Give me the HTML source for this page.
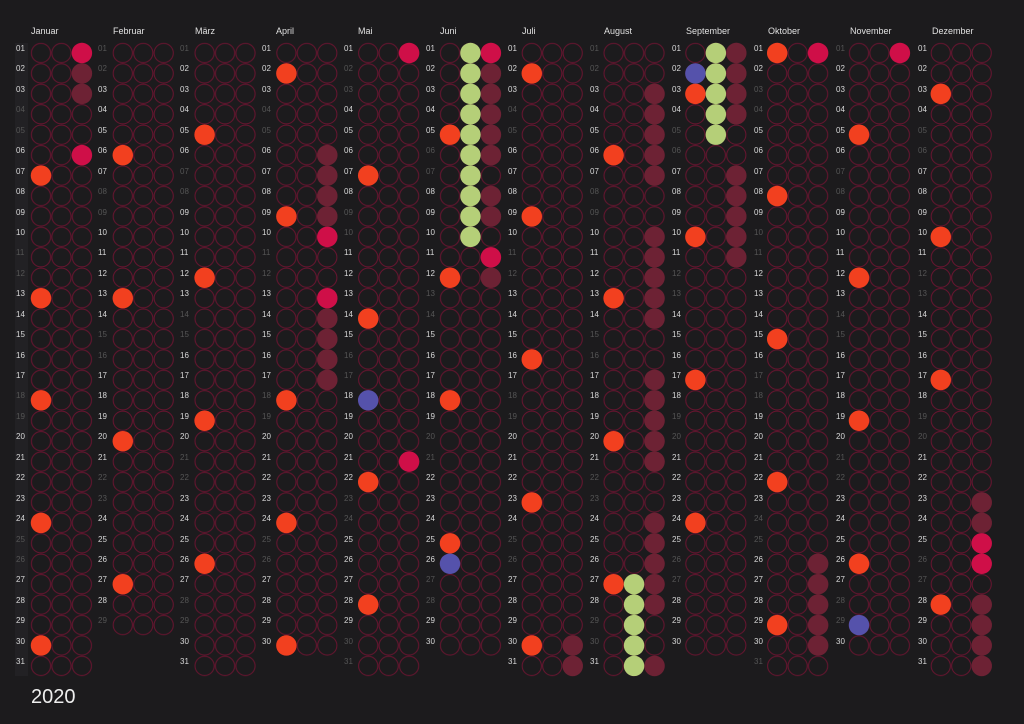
<!DOCTYPE html>
<html><head><meta charset="utf-8"><style>
body{margin:0;width:1024px;height:724px;background:#1c1b1d;overflow:hidden;font-family:"Liberation Sans",sans-serif;position:relative}
.ml{position:absolute;top:26px;font-size:9px;color:#e0e0e0}
.dn{position:absolute;top:39px;font-size:8px;line-height:20.43px;color:#d8d8d8;width:14px}
.dn i{font-style:normal;color:#555}
svg{position:absolute;left:0;top:0}
</style></head><body>
<svg width="1024" height="724">
<defs><pattern id="p" patternUnits="userSpaceOnUse" x="30.775" y="42.785" width="20.45" height="20.43"><circle cx="10.225" cy="10.215" r="9.6" fill="none" stroke="#6a1430" stroke-width="1"/></pattern></defs>
<rect x="15" y="43" width="13" height="633" fill="#222124"/>
<g fill="url(#p)">
<rect x="30.8" y="42.8" width="61.3" height="633.4"/>
<rect x="112.6" y="42.8" width="61.3" height="592.5"/>
<rect x="194.4" y="42.8" width="61.3" height="633.4"/>
<rect x="276.2" y="42.8" width="61.3" height="612.9"/>
<rect x="358" y="42.8" width="61.3" height="633.4"/>
<rect x="439.8" y="42.8" width="61.3" height="612.9"/>
<rect x="521.6" y="42.8" width="61.3" height="633.4"/>
<rect x="603.4" y="42.8" width="61.3" height="633.4"/>
<rect x="685.2" y="42.8" width="61.3" height="612.9"/>
<rect x="767" y="42.8" width="61.3" height="633.4"/>
<rect x="848.8" y="42.8" width="61.3" height="612.9"/>
<rect x="930.6" y="42.8" width="61.3" height="633.4"/>
</g>
<g transform="translate(41,53) scale(20.45,20.43)">
<g fill="#f2401f">
<circle cx="0" cy="6" r=".5"/><circle cx="0" cy="12" r=".5"/><circle cx="0" cy="17" r=".5"/><circle cx="0" cy="23" r=".5"/><circle cx="0" cy="29" r=".5"/>
<circle cx="4" cy="5" r=".5"/><circle cx="4" cy="12" r=".5"/><circle cx="4" cy="19" r=".5"/><circle cx="4" cy="26" r=".5"/>
<circle cx="8" cy="4" r=".5"/><circle cx="8" cy="11" r=".5"/><circle cx="8" cy="18" r=".5"/><circle cx="8" cy="25" r=".5"/>
<circle cx="12" cy="1" r=".5"/><circle cx="12" cy="8" r=".5"/><circle cx="12" cy="17" r=".5"/><circle cx="12" cy="23" r=".5"/><circle cx="12" cy="29" r=".5"/>
<circle cx="16" cy="6" r=".5"/><circle cx="16" cy="13" r=".5"/><circle cx="16" cy="21" r=".5"/><circle cx="16" cy="27" r=".5"/>
<circle cx="20" cy="4" r=".5"/><circle cx="20" cy="11" r=".5"/><circle cx="20" cy="17" r=".5"/><circle cx="20" cy="24" r=".5"/>
<circle cx="24" cy="1" r=".5"/><circle cx="24" cy="8" r=".5"/><circle cx="24" cy="15" r=".5"/><circle cx="24" cy="22" r=".5"/><circle cx="24" cy="29" r=".5"/>
<circle cx="28" cy="5" r=".5"/><circle cx="28" cy="12" r=".5"/><circle cx="28" cy="19" r=".5"/><circle cx="28" cy="26" r=".5"/>
<circle cx="32" cy="2" r=".5"/><circle cx="32" cy="9" r=".5"/><circle cx="32" cy="16" r=".5"/><circle cx="32" cy="23" r=".5"/>
<circle cx="36" cy="0" r=".5"/><circle cx="36" cy="7" r=".5"/><circle cx="36" cy="14" r=".5"/><circle cx="36" cy="21" r=".5"/><circle cx="36" cy="28" r=".5"/>
<circle cx="40" cy="4" r=".5"/><circle cx="40" cy="11" r=".5"/><circle cx="40" cy="18" r=".5"/><circle cx="40" cy="25" r=".5"/>
<circle cx="44" cy="2" r=".5"/><circle cx="44" cy="9" r=".5"/><circle cx="44" cy="16" r=".5"/><circle cx="44" cy="27" r=".5"/>
</g>
<g fill="#5552ab">
<circle cx="16" cy="17" r=".5"/><circle cx="20" cy="25" r=".5"/><circle cx="32" cy="1" r=".5"/><circle cx="40" cy="28" r=".5"/>
</g>
<g fill="#cf0f48">
<circle cx="2" cy="0" r=".5"/><circle cx="2" cy="5" r=".5"/>
<circle cx="14" cy="9" r=".5"/><circle cx="14" cy="12" r=".5"/>
<circle cx="18" cy="0" r=".5"/><circle cx="18" cy="20" r=".5"/>
<circle cx="22" cy="0" r=".5"/><circle cx="22" cy="10" r=".5"/>
<circle cx="38" cy="0" r=".5"/><circle cx="42" cy="0" r=".5"/>
<circle cx="46" cy="24" r=".5"/><circle cx="46" cy="25" r=".5"/>
</g>
<g fill="#6d2234">
<circle cx="2" cy="1" r=".5"/><circle cx="2" cy="2" r=".5"/>
<circle cx="14" cy="5" r=".5"/><circle cx="14" cy="6" r=".5"/><circle cx="14" cy="7" r=".5"/><circle cx="14" cy="8" r=".5"/>
<circle cx="14" cy="13" r=".5"/><circle cx="14" cy="14" r=".5"/><circle cx="14" cy="15" r=".5"/><circle cx="14" cy="16" r=".5"/>
<circle cx="22" cy="1" r=".5"/><circle cx="22" cy="2" r=".5"/><circle cx="22" cy="3" r=".5"/><circle cx="22" cy="4" r=".5"/><circle cx="22" cy="5" r=".5"/><circle cx="22" cy="7" r=".5"/><circle cx="22" cy="8" r=".5"/><circle cx="22" cy="11" r=".5"/>
<circle cx="26" cy="29" r=".5"/><circle cx="26" cy="30" r=".5"/>
<circle cx="30" cy="2" r=".5"/><circle cx="30" cy="3" r=".5"/><circle cx="30" cy="4" r=".5"/><circle cx="30" cy="5" r=".5"/><circle cx="30" cy="6" r=".5"/>
<circle cx="30" cy="9" r=".5"/><circle cx="30" cy="10" r=".5"/><circle cx="30" cy="11" r=".5"/><circle cx="30" cy="12" r=".5"/><circle cx="30" cy="13" r=".5"/>
<circle cx="30" cy="16" r=".5"/><circle cx="30" cy="17" r=".5"/><circle cx="30" cy="18" r=".5"/><circle cx="30" cy="19" r=".5"/><circle cx="30" cy="20" r=".5"/>
<circle cx="30" cy="23" r=".5"/><circle cx="30" cy="24" r=".5"/><circle cx="30" cy="25" r=".5"/><circle cx="30" cy="26" r=".5"/><circle cx="30" cy="27" r=".5"/><circle cx="30" cy="30" r=".5"/>
<circle cx="34" cy="0" r=".5"/><circle cx="34" cy="1" r=".5"/><circle cx="34" cy="2" r=".5"/><circle cx="34" cy="3" r=".5"/>
<circle cx="34" cy="6" r=".5"/><circle cx="34" cy="7" r=".5"/><circle cx="34" cy="8" r=".5"/><circle cx="34" cy="9" r=".5"/><circle cx="34" cy="10" r=".5"/>
<circle cx="38" cy="25" r=".5"/><circle cx="38" cy="26" r=".5"/><circle cx="38" cy="27" r=".5"/><circle cx="38" cy="28" r=".5"/><circle cx="38" cy="29" r=".5"/>
<circle cx="46" cy="22" r=".5"/><circle cx="46" cy="23" r=".5"/><circle cx="46" cy="27" r=".5"/><circle cx="46" cy="28" r=".5"/><circle cx="46" cy="29" r=".5"/><circle cx="46" cy="30" r=".5"/>
</g>
<g fill="#b5cf78">
<circle cx="21" cy="0" r=".5"/><circle cx="21" cy="1" r=".5"/><circle cx="21" cy="2" r=".5"/><circle cx="21" cy="3" r=".5"/><circle cx="21" cy="4" r=".5"/><circle cx="21" cy="5" r=".5"/><circle cx="21" cy="6" r=".5"/><circle cx="21" cy="7" r=".5"/><circle cx="21" cy="8" r=".5"/><circle cx="21" cy="9" r=".5"/>
<circle cx="29" cy="26" r=".5"/><circle cx="29" cy="27" r=".5"/><circle cx="29" cy="28" r=".5"/><circle cx="29" cy="29" r=".5"/><circle cx="29" cy="30" r=".5"/>
<circle cx="33" cy="0" r=".5"/><circle cx="33" cy="1" r=".5"/><circle cx="33" cy="2" r=".5"/><circle cx="33" cy="3" r=".5"/><circle cx="33" cy="4" r=".5"/>
</g>
</g>
<text x="31" y="703" font-family="Liberation Sans, sans-serif" font-size="20" fill="#eeeeee">2020</text>
</svg>
<div class="ml" style="left:31px">Januar</div><div class="ml" style="left:113px">Februar</div><div class="ml" style="left:195px">März</div><div class="ml" style="left:276px">April</div><div class="ml" style="left:358px">Mai</div><div class="ml" style="left:440px">Juni</div><div class="ml" style="left:522px">Juli</div><div class="ml" style="left:604px">August</div><div class="ml" style="left:686px">September</div><div class="ml" style="left:768px">Oktober</div><div class="ml" style="left:850px">November</div><div class="ml" style="left:932px">Dezember</div>
<div class="dn" style="left:16px">01<br>02<br>03<br><i>04</i><br><i>05</i><br>06<br>07<br>08<br>09<br>10<br><i>11</i><br><i>12</i><br>13<br>14<br>15<br>16<br>17<br><i>18</i><br><i>19</i><br>20<br>21<br>22<br>23<br>24<br><i>25</i><br><i>26</i><br>27<br>28<br>29<br>30<br>31</div>
<div class="dn" style="left:98px"><i>01</i><br><i>02</i><br>03<br>04<br>05<br>06<br>07<br><i>08</i><br><i>09</i><br>10<br>11<br>12<br>13<br>14<br><i>15</i><br><i>16</i><br>17<br>18<br>19<br>20<br>21<br><i>22</i><br><i>23</i><br>24<br>25<br>26<br>27<br>28<br><i>29</i></div>
<div class="dn" style="left:180px"><i>01</i><br>02<br>03<br>04<br>05<br>06<br><i>07</i><br><i>08</i><br>09<br>10<br>11<br>12<br>13<br><i>14</i><br><i>15</i><br>16<br>17<br>18<br>19<br>20<br><i>21</i><br><i>22</i><br>23<br>24<br>25<br>26<br>27<br><i>28</i><br><i>29</i><br>30<br>31</div>
<div class="dn" style="left:262px">01<br>02<br>03<br><i>04</i><br><i>05</i><br>06<br>07<br>08<br>09<br>10<br><i>11</i><br><i>12</i><br>13<br>14<br>15<br>16<br>17<br><i>18</i><br><i>19</i><br>20<br>21<br>22<br>23<br>24<br><i>25</i><br><i>26</i><br>27<br>28<br>29<br>30</div>
<div class="dn" style="left:344px">01<br><i>02</i><br><i>03</i><br>04<br>05<br>06<br>07<br>08<br><i>09</i><br><i>10</i><br>11<br>12<br>13<br>14<br>15<br><i>16</i><br><i>17</i><br>18<br>19<br>20<br>21<br>22<br><i>23</i><br><i>24</i><br>25<br>26<br>27<br>28<br>29<br><i>30</i><br><i>31</i></div>
<div class="dn" style="left:426px">01<br>02<br>03<br>04<br>05<br><i>06</i><br><i>07</i><br>08<br>09<br>10<br>11<br>12<br><i>13</i><br><i>14</i><br>15<br>16<br>17<br>18<br>19<br><i>20</i><br><i>21</i><br>22<br>23<br>24<br>25<br>26<br><i>27</i><br><i>28</i><br>29<br>30</div>
<div class="dn" style="left:508px">01<br>02<br>03<br><i>04</i><br><i>05</i><br>06<br>07<br>08<br>09<br>10<br><i>11</i><br><i>12</i><br>13<br>14<br>15<br>16<br>17<br><i>18</i><br><i>19</i><br>20<br>21<br>22<br>23<br>24<br><i>25</i><br><i>26</i><br>27<br>28<br>29<br>30<br>31</div>
<div class="dn" style="left:590px"><i>01</i><br><i>02</i><br>03<br>04<br>05<br>06<br>07<br><i>08</i><br><i>09</i><br>10<br>11<br>12<br>13<br>14<br><i>15</i><br><i>16</i><br>17<br>18<br>19<br>20<br>21<br><i>22</i><br><i>23</i><br>24<br>25<br>26<br>27<br>28<br><i>29</i><br><i>30</i><br>31</div>
<div class="dn" style="left:672px">01<br>02<br>03<br>04<br><i>05</i><br><i>06</i><br>07<br>08<br>09<br>10<br>11<br><i>12</i><br><i>13</i><br>14<br>15<br>16<br>17<br>18<br><i>19</i><br><i>20</i><br>21<br>22<br>23<br>24<br>25<br><i>26</i><br><i>27</i><br>28<br>29<br>30</div>
<div class="dn" style="left:754px">01<br>02<br><i>03</i><br><i>04</i><br>05<br>06<br>07<br>08<br>09<br><i>10</i><br><i>11</i><br>12<br>13<br>14<br>15<br>16<br><i>17</i><br><i>18</i><br>19<br>20<br>21<br>22<br>23<br><i>24</i><br><i>25</i><br>26<br>27<br>28<br>29<br>30<br><i>31</i></div>
<div class="dn" style="left:836px"><i>01</i><br>02<br>03<br>04<br>05<br>06<br><i>07</i><br><i>08</i><br>09<br>10<br>11<br>12<br>13<br><i>14</i><br><i>15</i><br>16<br>17<br>18<br>19<br>20<br><i>21</i><br><i>22</i><br>23<br>24<br>25<br>26<br>27<br><i>28</i><br><i>29</i><br>30</div>
<div class="dn" style="left:918px">01<br>02<br>03<br>04<br><i>05</i><br><i>06</i><br>07<br>08<br>09<br>10<br>11<br><i>12</i><br><i>13</i><br>14<br>15<br>16<br>17<br>18<br><i>19</i><br><i>20</i><br>21<br>22<br>23<br>24<br>25<br><i>26</i><br><i>27</i><br>28<br>29<br>30<br>31</div>
</body></html>
